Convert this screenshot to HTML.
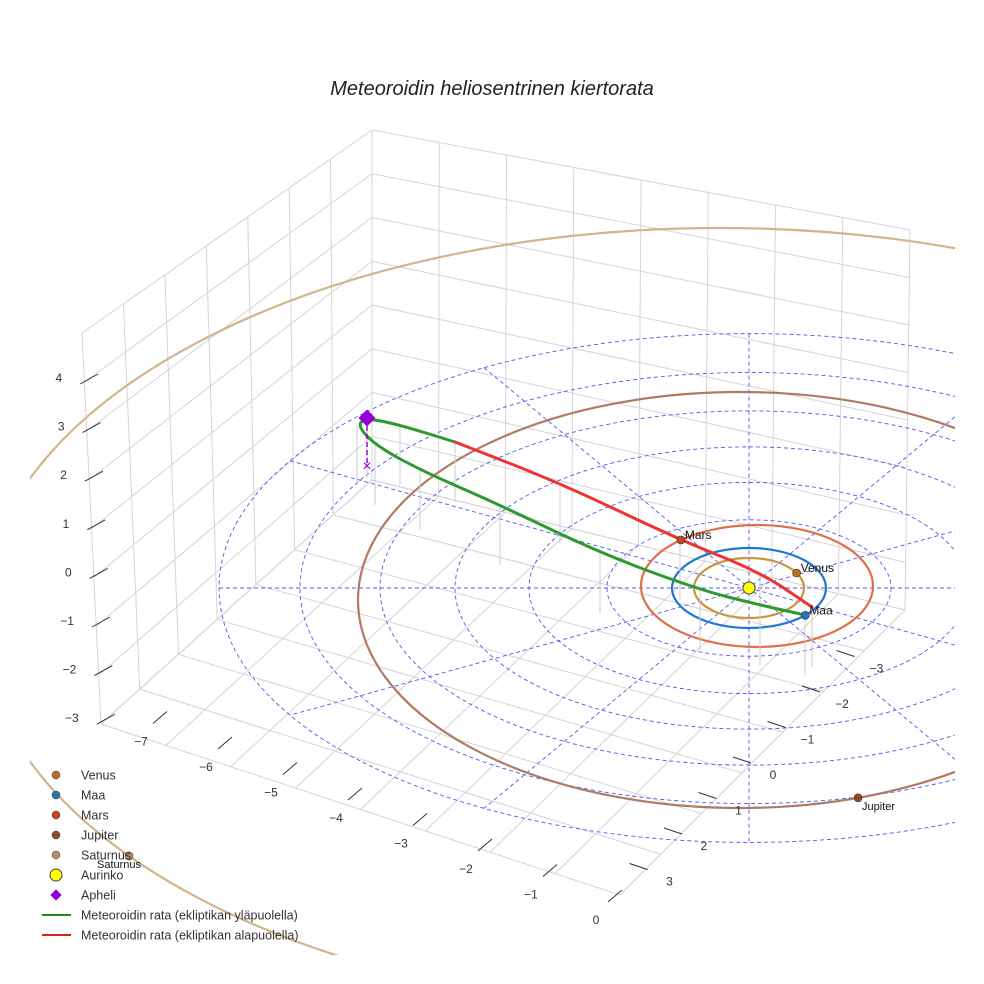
<!DOCTYPE html>
<html><head><meta charset="utf-8"><style>
body{margin:0;background:#fff}
svg{display:block;font-family:"Liberation Sans",sans-serif}
</style></head><body>
<svg id="c" width="984" height="984" viewBox="0 0 984 984">
<defs><clipPath id="sc"><rect x="30" y="0" width="925" height="955"/></clipPath></defs>
<text x="492" y="95" text-anchor="middle" font-size="20" font-style="italic" fill="#222">Meteoroidin heliosentrinen kiertorata</text>
<g id="grid"></g><g clip-path="url(#sc)"><g id="ecl"></g><g id="orb"></g></g><g id="met"></g><g id="pts"></g><g id="axes"></g><g id="legend"></g>
</svg>
<script>
// data arrays
const zTicks=[4,3,2,1,0,-1,-2,-3];
const xTicks=[-7,-6,-5,-4,-3,-2,-1,0];
const yTicks=[-3,-2,-1,0,1,2,3];
const planetNames=["Venus","Maa","Mars","Jupiter","Saturnus"];
const planetColors=["#c8963e","#1f77d4","#e0704a","#b07a60","#d2b48c"];
const planetDotColors=["#b5711e","#1f77b4","#c8461e","#8b4a2b","#b8906a"];
const orbitRx=[55,77,116,382,740];
const orbitRy=[30,40,61,208,392];
const orbitCx=[749,749,757,740,720];
const orbitCy=[588,588,586,600,620];
const planetAngleDeg=[30,-43,131,-72,-143];
const gridRings=[142,220,294,369,449,530];
const radialAnglesDeg=[0,30,60,90,120,150];
const metUpper=[[805,615],[760,605],[700,590],[600,553],[500,505],[420,470],[375,445],[357,425],[367,418],[400,425],[455,442]];
const metLower=[[455,442],[560,483],[680,540],[760,572],[812,607]];
const NS="http://www.w3.org/2000/svg";
function mk(t,a,p){const e=document.createElementNS(NS,t);for(const k in a)e.setAttribute(k,a[k]);p.appendChild(e);return e;}
const G=id=>document.getElementById(id);
function lerp(a,b,t){return[a[0]+(b[0]-a[0])*t,a[1]+(b[1]-a[1])*t];}
function bil(q,u,v){return lerp(lerp(q[0],q[1],u),lerp(q[3],q[2],u),v);}
const leftWall=[[82,333],[372,130],[372,480],[101,724]];
const backWall=[[372,130],[910,230],[905,610],[372,480]];
const floor=[[101,724],[372,480],[905,610],[620,895]];
const g=G('grid');
function quadGrid(q,nu,nv,name){
  for(let i=0;i<=nu;i++){const a=bil(q,i/nu,0),b=bil(q,i/nu,1);
    const l=mk('line',{x1:a[0],y1:a[1],x2:b[0],y2:b[1],stroke:'#d4d4d4','stroke-width':1},g);
    }
  for(let j=0;j<=nv;j++){const a=bil(q,0,j/nv),b=bil(q,1,j/nv);
    const l=mk('line',{x1:a[0],y1:a[1],x2:b[0],y2:b[1],stroke:'#d4d4d4','stroke-width':1},g);
    }
}
quadGrid(leftWall,7,8,'left-wall');quadGrid(backWall,8,8,'back-wall');quadGrid(floor,7,8,'floor');
const e=G('ecl');const sx=749,sy=588;
gridRings.forEach(r=>{const el=mk('ellipse',{cx:sx,cy:sy,rx:r,ry:r*0.48,fill:'none',stroke:'#5555ee','stroke-width':0.9,'stroke-dasharray':'4,3'},e);
  });
const R=gridRings[gridRings.length-1];
radialAnglesDeg.forEach(a=>{const t=a*Math.PI/180;const dx=Math.cos(t)*R,dy=Math.sin(t)*R*0.48;
  const l=mk('line',{x1:sx-dx,y1:sy-dy,x2:sx+dx,y2:sy+dy,stroke:'#5555ee','stroke-width':0.9,'stroke-dasharray':'4,3'},e);
  });
const o=G('orb');
planetNames.forEach((n,i)=>{const el=mk('ellipse',{cx:orbitCx[i],cy:orbitCy[i],rx:orbitRx[i],ry:orbitRy[i],fill:'none',stroke:planetColors[i],'stroke-width':2.2},o);
  });
const m=G('met');
function pathD(p){let d='M'+p[0][0]+','+p[0][1];for(let i=1;i<p.length;i++){const a=p[i-1],b=p[i];const mx=(a[0]+b[0])/2,my=(a[1]+b[1])/2;d+=' Q'+a[0]+','+a[1]+' '+mx+','+my;}d+=' L'+p[p.length-1][0]+','+p[p.length-1][1];return d;}
metUpper.concat(metLower).forEach(p=>{const l=mk('line',{x1:p[0],y1:p[1],x2:p[0],y2:p[1]+60,stroke:'#cccccc','stroke-width':1},m);
  });
const pu=mk('path',{d:pathD(metUpper),fill:'none',stroke:'#2e9a2e','stroke-width':3,'stroke-linecap':'round'},m);

const pl=mk('path',{d:pathD(metLower),fill:'none',stroke:'#ee3333','stroke-width':3,'stroke-linecap':'round'},m);

const ad=mk('line',{x1:367,y1:418,x2:367,y2:466,stroke:'#9400d3','stroke-width':1.5,'stroke-dasharray':'5,3'},m);

const ax=mk('text',{x:367,y:471,'text-anchor':'middle','font-size':16,fill:'#9400d3'},m);ax.textContent='×';

const pt=G('pts');
planetNames.forEach((n,i)=>{const t=planetAngleDeg[i]*Math.PI/180;
  const x=orbitCx[i]+orbitRx[i]*Math.cos(t),y=orbitCy[i]-orbitRy[i]*Math.sin(t);
  const c=mk('circle',{cx:x,cy:y,r:4,fill:planetDotColors[i],stroke:'#333','stroke-width':0.6},pt);
  
  const tx=mk('text',{x:x+(i==4?-32:4),y:y+(i==3||i==4?12:-1),'font-size':i>=3?11:12,fill:'#111'},pt);tx.textContent=n;
  });
const sun=mk('circle',{cx:sx,cy:sy,r:6,fill:'#ffff00',stroke:'#444','stroke-width':1},pt);

const aph=mk('rect',{x:361,y:412,width:12,height:12,fill:'#9400d3',transform:'rotate(45 367 418)'},pt);

const A=G('axes');
function zY(v){return 378+(4-v)*48.6;}
zTicks.forEach(v=>{const y=zY(v),x=82+(y-333)/391*19;
  const l=mk('line',{x1:x-4,y1:y+6,x2:x+14,y2:y-4,stroke:'#333','stroke-width':1},A);
  const t=mk('text',{x:x-22,y:y+4,'text-anchor':'end','font-size':12,fill:'#333'},A);t.textContent=String(v).replace('-','−');
  });
function xPos(v){return[596+v*65,920+v*25.5];}
xTicks.forEach(v=>{const [x,y]=xPos(v);
  const l=mk('line',{x1:x+12,y1:y-18,x2:x+26,y2:y-30,stroke:'#333','stroke-width':1},A);
  const t=mk('text',{x:x,y:y+4,'text-anchor':'middle','font-size':12,fill:'#333'},A);t.textContent=String(v).replace('-','−');
  });
function yPos(v){return[773-v*34.5,775+v*35.5];}
yTicks.forEach(v=>{const [x,y]=yPos(v);
  const l=mk('line',{x1:x-40,y1:y-18,x2:x-22,y2:y-12,stroke:'#333','stroke-width':1},A);
  const t=mk('text',{x:x,y:y+4,'text-anchor':'middle','font-size':12,fill:'#333'},A);t.textContent=String(v).replace('-','−');
  });
const L=G('legend');
const legNames=planetNames.concat(["Aurinko","Apheli","Meteoroidin rata (ekliptikan yläpuolella)","Meteoroidin rata (ekliptikan alapuolella)"]);
legNames.forEach((n,i)=>{const y=775+i*20;
  if(i<5){const c=mk('circle',{cx:56,cy:y,r:4,fill:planetDotColors[i],stroke:'#333','stroke-width':0.5},L);}
  else if(i==5){const c=mk('circle',{cx:56,cy:y,r:6,fill:'#ffff00',stroke:'#444','stroke-width':1},L);}
  else if(i==6){const c=mk('rect',{x:52,y:y-4,width:8,height:8,fill:'#9400d3',transform:'rotate(45 56 '+y+')'},L);}
  else{const c=mk('line',{x1:42,y1:y,x2:71,y2:y,stroke:i==7?'#1a8a1a':'#dd2222','stroke-width':2},L);}
  const t=mk('text',{x:81,y:y+4.5,'font-size':12.5,fill:'#333'},L);t.textContent=n;
  });
</script>
</body></html>
